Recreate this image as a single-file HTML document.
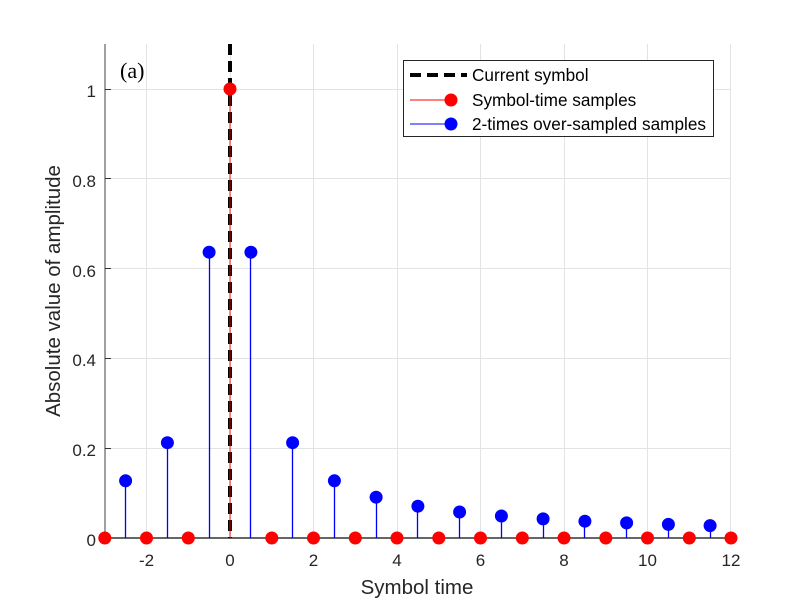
<!DOCTYPE html>
<html><head><meta charset="utf-8"><style>
html,body{margin:0;padding:0;background:#fff;}
svg{display:block;}
text{font-family:"Liberation Sans",Arial,sans-serif;fill:#262626;}
</style></head><body>
<svg width="806" height="604" viewBox="0 0 806 604" xmlns="http://www.w3.org/2000/svg">
<rect width="806" height="604" fill="#fff"/>
<g stroke="#e3e3e3" stroke-width="1">
<line x1="146.5" y1="44" x2="146.5" y2="538"/>
<line x1="230.5" y1="44" x2="230.5" y2="538"/>
<line x1="313.5" y1="44" x2="313.5" y2="538"/>
<line x1="397.5" y1="44" x2="397.5" y2="538"/>
<line x1="480.5" y1="44" x2="480.5" y2="538"/>
<line x1="564.5" y1="44" x2="564.5" y2="538"/>
<line x1="647.5" y1="44" x2="647.5" y2="538"/>
<line x1="730.5" y1="44" x2="730.5" y2="538"/>
<line x1="105" y1="448.5" x2="731" y2="448.5"/>
<line x1="105" y1="358.5" x2="731" y2="358.5"/>
<line x1="105" y1="268.5" x2="731" y2="268.5"/>
<line x1="105" y1="178.5" x2="731" y2="178.5"/>
<line x1="105" y1="89.5" x2="731" y2="89.5"/>
</g>
<!-- axes -->
<line x1="105" y1="44" x2="105" y2="538" stroke="#808080" stroke-width="1.5"/>
<line x1="105" y1="538" x2="731" y2="538" stroke="#333" stroke-width="1.5"/>
<g stroke="#333" stroke-width="1">
<line x1="105" y1="448.5" x2="111" y2="448.5"/>
<line x1="105" y1="358.5" x2="111" y2="358.5"/>
<line x1="105" y1="268.5" x2="111" y2="268.5"/>
<line x1="105" y1="178.5" x2="111" y2="178.5"/>
<line x1="105" y1="89.5" x2="111" y2="89.5"/>
<line x1="146.5" y1="538" x2="146.5" y2="532"/>
<line x1="313.5" y1="538" x2="313.5" y2="532"/>
<line x1="397.5" y1="538" x2="397.5" y2="532"/>
<line x1="480.5" y1="538" x2="480.5" y2="532"/>
<line x1="564.5" y1="538" x2="564.5" y2="532"/>
<line x1="647.5" y1="538" x2="647.5" y2="532"/>
</g>
<!-- tick labels -->
<g font-size="17" text-anchor="end">
<text x="96" y="546">0</text>
<text x="96" y="456">0.2</text>
<text x="96" y="366">0.4</text>
<text x="96" y="277">0.6</text>
<text x="96" y="187">0.8</text>
<text x="96" y="97">1</text>
</g>
<g font-size="17" text-anchor="middle">
<text x="146.5" y="566">-2</text>
<text x="230" y="566">0</text>
<text x="313.5" y="566">2</text>
<text x="397" y="566">4</text>
<text x="480.5" y="566">6</text>
<text x="564" y="566">8</text>
<text x="647.5" y="566">10</text>
<text x="731" y="566">12</text>
</g>
<text x="417" y="594" font-size="20.5" text-anchor="middle">Symbol time</text>
<text transform="translate(60,291) rotate(-90)" font-size="20.5" text-anchor="middle">Absolute value of amplitude</text>
<text x="120" y="78" font-size="22" style="font-family:'Liberation Serif',serif;fill:#000">(a)</text>
<!-- blue stems -->
<g stroke="#0000ff" stroke-width="1.3">
<line x1="125.5" y1="538" x2="125.5" y2="480.8"/>
<line x1="167.5" y1="538" x2="167.5" y2="442.7"/>
<line x1="209.5" y1="538" x2="209.5" y2="252.2"/>
<line x1="250.5" y1="538" x2="250.5" y2="252.2"/>
<line x1="292.5" y1="538" x2="292.5" y2="442.7"/>
<line x1="334.5" y1="538" x2="334.5" y2="480.8"/>
<line x1="376.5" y1="538" x2="376.5" y2="497.2"/>
<line x1="417.5" y1="538" x2="417.5" y2="506.2"/>
<line x1="459.5" y1="538" x2="459.5" y2="512.0"/>
<line x1="501.5" y1="538" x2="501.5" y2="516.0"/>
<line x1="543.5" y1="538" x2="543.5" y2="518.9"/>
<line x1="584.5" y1="538" x2="584.5" y2="521.2"/>
<line x1="626.5" y1="538" x2="626.5" y2="522.9"/>
<line x1="668.5" y1="538" x2="668.5" y2="524.4"/>
<line x1="710.5" y1="538" x2="710.5" y2="525.6"/>
</g>
<!-- dashed current symbol -->
<line x1="230" y1="44" x2="230" y2="538" stroke="#000" stroke-width="4" stroke-dasharray="11,6"/>
<line x1="230" y1="538" x2="230" y2="89" stroke="#ff0000" stroke-width="1.5" opacity="0.6"/>
<!-- blue markers -->
<g fill="#0000ff">
<circle cx="125.6" cy="480.8" r="6.5"/>
<circle cx="167.4" cy="442.7" r="6.5"/>
<circle cx="209.1" cy="252.2" r="6.5"/>
<circle cx="250.9" cy="252.2" r="6.5"/>
<circle cx="292.6" cy="442.7" r="6.5"/>
<circle cx="334.4" cy="480.8" r="6.5"/>
<circle cx="376.1" cy="497.2" r="6.5"/>
<circle cx="417.9" cy="506.2" r="6.5"/>
<circle cx="459.6" cy="512.0" r="6.5"/>
<circle cx="501.4" cy="516.0" r="6.5"/>
<circle cx="543.1" cy="518.9" r="6.5"/>
<circle cx="584.9" cy="521.2" r="6.5"/>
<circle cx="626.6" cy="522.9" r="6.5"/>
<circle cx="668.4" cy="524.4" r="6.5"/>
<circle cx="710.1" cy="525.6" r="6.5"/>
</g>
<!-- red markers -->
<g fill="#ff0000">
<circle cx="104.8" cy="538" r="6.5"/>
<circle cx="146.5" cy="538" r="6.5"/>
<circle cx="188.3" cy="538" r="6.5"/>
<circle cx="230" cy="89" r="6.5"/>
<circle cx="271.8" cy="538" r="6.5"/>
<circle cx="313.5" cy="538" r="6.5"/>
<circle cx="355.3" cy="538" r="6.5"/>
<circle cx="397" cy="538" r="6.5"/>
<circle cx="438.8" cy="538" r="6.5"/>
<circle cx="480.5" cy="538" r="6.5"/>
<circle cx="522.3" cy="538" r="6.5"/>
<circle cx="564" cy="538" r="6.5"/>
<circle cx="605.8" cy="538" r="6.5"/>
<circle cx="647.5" cy="538" r="6.5"/>
<circle cx="689.3" cy="538" r="6.5"/>
<circle cx="731" cy="538" r="6.5"/>
</g>
<!-- legend -->
<rect x="403.5" y="60.5" width="310" height="76" fill="#fff" stroke="#262626" stroke-width="1"/>
<line x1="410" y1="75" x2="467" y2="75" stroke="#000" stroke-width="4" stroke-dasharray="11,6"/>
<line x1="410" y1="100" x2="451" y2="100" stroke="#ff0000" stroke-width="1"/>
<circle cx="451" cy="100" r="6.5" fill="#ff0000"/>
<line x1="410" y1="124" x2="451" y2="124" stroke="#0000ff" stroke-width="1"/>
<circle cx="451" cy="124" r="6.5" fill="#0000ff"/>
<g font-size="17.2">
<text x="472" y="81" style="fill:#000">Current symbol</text>
<text x="472" y="106" style="fill:#000">Symbol-time samples</text>
<text x="472" y="130" style="fill:#000">2-times over-sampled samples</text>
</g>
</svg>
</body></html>
